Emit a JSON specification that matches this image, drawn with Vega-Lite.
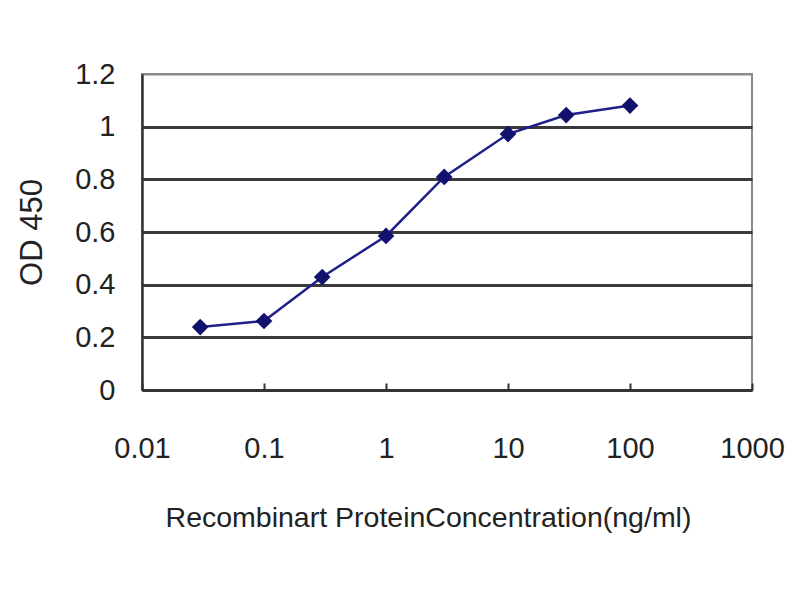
{
  "$schema": "https://vega.github.io/schema/vega-lite/v6.json",
  "width": 610,
  "height": 316,
  "autosize": {"type": "none"},
  "padding": {"left": 142, "top": 74, "right": 48, "bottom": 210},
  "background": "white",
  "config": {
    "view": {"stroke": "#8a8a8a", "strokeWidth": 2},
    "font": "Liberation Sans"
  },
  "data": {
    "values": [
      {"conc": 0.03, "od": 0.239},
      {"conc": 0.1, "od": 0.262},
      {"conc": 0.3, "od": 0.429},
      {"conc": 1, "od": 0.585},
      {"conc": 3, "od": 0.809},
      {"conc": 10, "od": 0.972},
      {"conc": 30, "od": 1.044},
      {"conc": 100, "od": 1.08}
    ]
  },
  "mark": {
    "type": "line",
    "color": "#20208a",
    "strokeWidth": 2.5,
    "point": {"shape": "diamond", "size": 280, "filled": true, "color": "#12126e", "opacity": 1}
  },
  "encoding": {
    "x": {
      "field": "conc",
      "type": "quantitative",
      "scale": {"type": "log", "domain": [0.01, 1000], "nice": false},
      "axis": {
        "values": [0.01, 0.1, 1, 10, 100, 1000],
        "format": "~g",
        "grid": false,
        "domainColor": "#333",
        "domainWidth": 2.5,
        "tickColor": "#333",
        "tickWidth": 2,
        "tickSize": -7,
        "labelPadding": 51,
        "labelFontSize": 29,
        "labelColor": "#222",
        "labelFlush": false,
        "title": "Recombinart ProteinConcentration(ng/ml)",
        "titleFontSize": 28.5,
        "titleFontWeight": "normal",
        "titleColor": "#222",
        "titlePadding": 40,
        "titleX": 286
      }
    },
    "y": {
      "field": "od",
      "type": "quantitative",
      "scale": {"domain": [0, 1.2], "nice": false},
      "axis": {
        "values": [0, 0.2, 0.4, 0.6, 0.8, 1, 1.2],
        "format": "~g",
        "grid": true,
        "gridColor": {"condition": {"test": "datum.value >= 1.2", "value": "#8a8a8a"}, "value": "#3a3a3a"},
        "gridWidth": {"condition": {"test": "datum.value >= 1.2", "value": 2}, "value": 3},
        "ticks": false,
        "domainColor": "#333",
        "domainWidth": 2.5,
        "labelPadding": 27,
        "labelFontSize": 29,
        "labelColor": "#222",
        "labelFlush": false,
        "title": "OD 450",
        "titleFontSize": 31,
        "titleFontWeight": "normal",
        "titleColor": "#222",
        "titlePadding": 26
      }
    }
  }
}
